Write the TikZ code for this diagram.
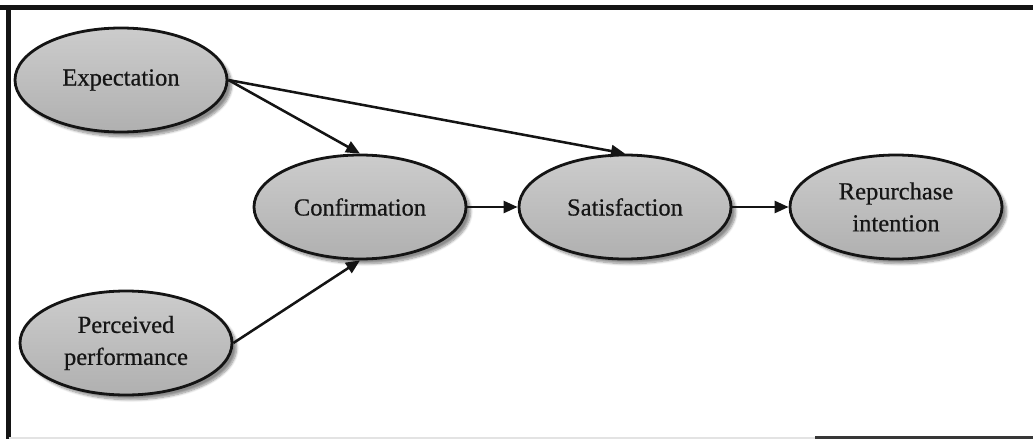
\documentclass[tikz,border=0pt]{standalone}
\usepackage{fontspec}
\setmainfont{Liberation Serif}
\usetikzlibrary{shapes.geometric,arrows.meta,shadows.blur}
\definecolor{inkdark}{HTML}{141414}
\definecolor{textdark}{HTML}{151515}
\begin{document}
\begin{tikzpicture}[x=0.75pt,y=-0.75pt,
  construct/.style={ellipse, draw=inkdark, line width=2.1pt,
    top color=gray!40, bottom color=gray!62,
    minimum width=159pt, minimum height=78pt, inner sep=0pt,
    align=center, text=textdark,
    font=\addfontfeatures{FakeBold=0.6}\fontsize{18.4}{24}\selectfont,
    blur shadow={shadow xshift=3.5pt, shadow yshift=-3.5pt,
      shadow blur steps=8, shadow opacity=45}},
  link/.style={draw=inkdark, line width=1.9pt,
    -{Triangle[length=10.5pt,width=9pt]}},
  frameline/.style={draw=inkdark, line width=3.5pt}]
  \useasboundingbox (0,0) rectangle (1033,439);

  % outer frame
  \coordinate (ftl) at (8.5,7.5);
  \coordinate (ftr) at (1033,7.5);
  \coordinate (fbl) at (8.5,439);
  \coordinate (fbm) at (815,438);
  \coordinate (fbr) at (1033,438);
  \coordinate (fbs) at (8.5,438);
  \draw[frameline] (0,7.5) -- (ftr);
  \draw[frameline] (ftl) -- (fbl);
  \draw[gray!22, line width=1.5pt] (fbs) -- (fbm);
  \draw[inkdark!85, line width=2.5pt] (fbm) -- (fbr);

  % constructs
  \node[construct] (exp)  at (121,80)  {Expectation};
  \node[construct] (conf) at (360,207) {Confirmation};
  \node[construct] (sat)  at (625,207) {Satisfaction};
  \node[construct] (rep)  at (896,207) {Repurchase\\intention};
  \node[construct] (perf) at (126,343) {Perceived\\performance};

  % relationships
  \draw[link] (exp.east) -- (conf.north);
  \draw[link] (exp.east) -- (sat.north);
  \draw[link] (perf.east) -- (conf.south);
  \draw[link] (conf.east) -- (sat.west);
  \draw[link] (sat.east) -- (rep.west);
\end{tikzpicture}
\end{document}
